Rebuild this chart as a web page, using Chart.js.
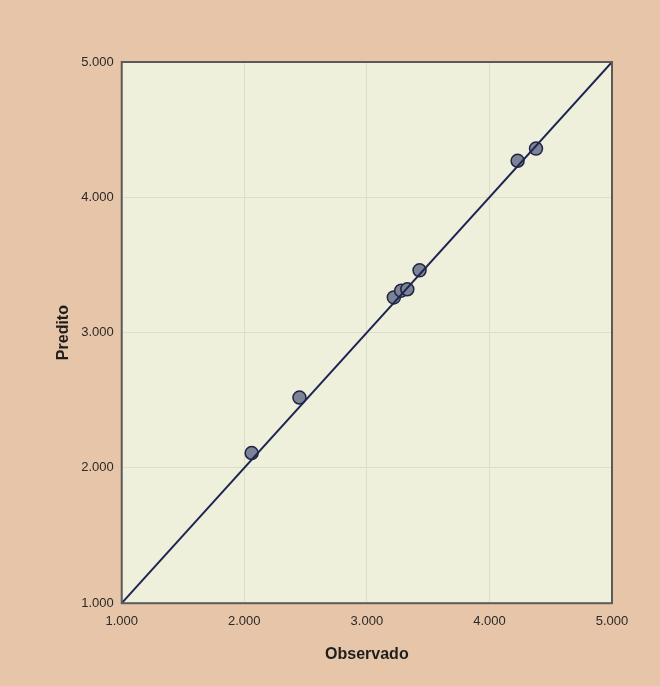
<!DOCTYPE html>
<html>
<head>
<meta charset="utf-8">
<script src="https://cdn.jsdelivr.net/npm/chart.js@4/dist/chart.umd.min.js"></script>
<style>
  html, body { margin: 0; padding: 0; background: #e7c5a8; }
  #wrap { width: 660px; height: 686px; }
</style>
</head>
<body>
<div id="wrap"><canvas id="chart"></canvas></div>
<script>
// observado vs predito
const observado = [2.06, 2.45, 3.22, 3.28, 3.33, 3.43, 4.23, 4.38];
const predito   = [2.11, 2.52, 3.26, 3.31, 3.32, 3.46, 4.27, 4.36];
const linha = [1, 5];  // reta y = x
const ticks = [1, 2, 3, 4, 5];

const plotBg = {
    id: 'plotBg',
    beforeDraw(chart) {
        let ctx = chart.ctx, a = chart.chartArea;
        ctx.save();
        ctx.fillStyle = '#eef0dc';
        ctx.fillRect(a.left, a.top, a.width, a.height);
        ctx.restore();
    },
    afterDraw(chart) {
        let ctx = chart.ctx, a = chart.chartArea;
        ctx.save();
        ctx.strokeStyle = '#5a5a5a';
        ctx.lineWidth = 2;
        ctx.strokeRect(a.left, a.top, a.width, a.height);
        ctx.restore();
    }
};

Chart.defaults.font.family = "'Liberation Sans', Arial, sans-serif";

const myChart = new Chart(document.getElementById('chart'), {
    type: 'scatter',
    data: {
        datasets: [{
            type: 'line',
            data: linha.map(v => ({x: v, y: v})),
            borderColor: '#1d2452',
            borderWidth: 2,
            pointRadius: 0,
            fill: false
        }, {
            data: observado.map((v, i) => ({x: v, y: predito[i]})),
            backgroundColor: '#7c8397',
            borderColor: '#1f2540',
            borderWidth: 1.5,
            pointRadius: 6.5
        }]
    },
    options: {
        responsive: true,
        maintainAspectRatio: false,
        animation: false,
        layout: { padding: {left: 50, right: 48, top: 62, bottom: 18} },
        plugins: { legend: {display: false}, tooltip: {enabled: false} },
        scales: {
            x: {
                type: 'linear', min: 1, max: 5,
                afterBuildTicks: s => { s.ticks = ticks.map(v => ({value: v})); },
                grid: { color: '#dcdecb', drawTicks: false },
                border: { display: false },
                ticks: { color: '#2a2a2a', font: {size: 13}, padding: 10,
                         callback: v => v.toFixed(3) },
                title: { display: true, text: 'Observado', color: '#1e1e1e',
                         font: {size: 16, weight: 'bold'}, padding: {top: 6} }
            },
            y: {
                type: 'linear', min: 1, max: 5,
                afterBuildTicks: s => { s.ticks = ticks.map(v => ({value: v})); },
                grid: { color: '#dcdecb', drawTicks: false },
                border: { display: false },
                ticks: { color: '#2a2a2a', font: {size: 13}, padding: 8,
                         callback: v => v.toFixed(3) },
                title: { display: true, text: 'Predito', color: '#1e1e1e',
                         font: {size: 16, weight: 'bold'}, padding: {bottom: 0} }
            }
        }
    },
    plugins: [plotBg]
});
</script>
</body>
</html>
